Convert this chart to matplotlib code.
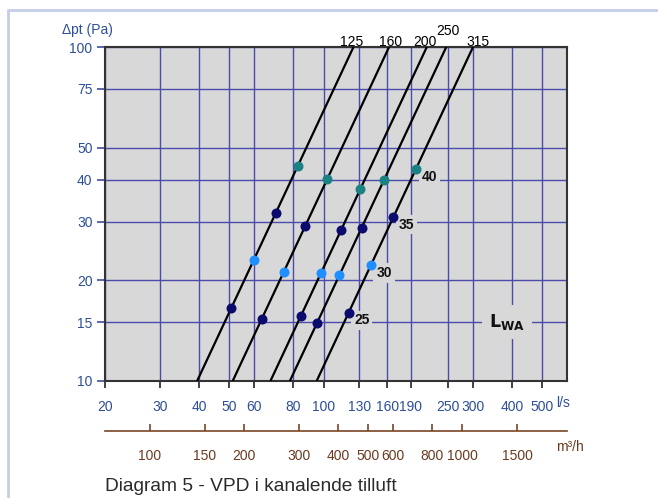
import numpy as np
import matplotlib
matplotlib.use("Agg")
import matplotlib.pyplot as plt
from matplotlib.lines import Line2D
from matplotlib.ticker import FixedLocator, FixedFormatter, NullLocator

plt.rcParams["font.family"] = ["Liberation Sans", "DejaVu Sans"]

# Duct sizes and the air flow (l/s) each one passes at 10 Pa
duct_sizes = ["125", "160", "200", "250", "315"]
flow_at_10pa = [39.4, 51.2, 67.6, 78.0, 95.0]

# Pressure drop (Pa) at which each duct reaches the given sound power level
sound_levels = ["25", "30", "35", "40"]
dp_lwa25 = [16.5, 15.3, 15.7, 14.9, 16.0]
dp_lwa30 = [23.0, 21.2, 21.0, 20.7, 22.2]
dp_lwa35 = [31.8, 29.2, 28.3, 28.8, 31.0]
dp_lwa40 = [44.1, 40.3, 37.6, 40.1, 43.1]

xticks_ls = [20, 30, 40, 50, 60, 80, 100, 130, 160, 190, 250, 300, 400, 500]
yticks_pa = [10, 15, 20, 30, 40, 50, 75, 100]
xticks_m3h = [100, 150, 200, 300, 400, 500, 600, 800, 1000, 1500]

BLUE_TXT = "#2d4f98"
GRID = "#4b4bab"
BROWN = "#7a4526"
BG = "#d8d8d8"
level_colors = ["#0b0b6e", "#1f8fff", "#0b0b6e", "#1a8282"]

W, H = 658, 498
fig = plt.figure(figsize=(W / 100, H / 100), dpi=100)
fig.patch.set_facecolor("white")

ax = fig.add_axes([105 / W, 1 - 381 / H, 462 / W, 334 / H])
ax.set_xscale("log")
ax.set_yscale("log")
ax.set_xlim(20, 600)
ax.set_ylim(10, 100)
ax.set_facecolor(BG)

ax.xaxis.set_major_locator(FixedLocator(xticks_ls))
ax.xaxis.set_major_formatter(FixedFormatter([str(v) for v in xticks_ls]))
ax.yaxis.set_major_locator(FixedLocator(yticks_pa))
ax.yaxis.set_major_formatter(FixedFormatter([str(v) for v in yticks_pa]))
ax.xaxis.set_minor_locator(NullLocator())
ax.yaxis.set_minor_locator(NullLocator())

ax.grid(True, which="major", color=GRID, lw=1.0)
ax.set_axisbelow(True)
for sp in ax.spines.values():
    sp.set_color("#333333")
    sp.set_linewidth(1.5)

ax.tick_params(axis="y", direction="out", length=6, width=1.2, color="#3b4fa0",
               labelcolor=BLUE_TXT, labelsize=10, pad=3)
ax.tick_params(axis="x", direction="out", length=5, width=1.2, color="#222222",
               labelcolor=BLUE_TXT, labelsize=10, pad=9)

# Duct characteristic lines: dp grows with the square of the flow
dp_line = np.array([10.0, 100.0])
label_dx = {"125": -2, "160": 1, "200": -2, "250": 2, "315": 5}
label_dy = {"125": 1, "160": 1, "200": 1, "250": 12, "315": 1}
for name, q10 in zip(duct_sizes, flow_at_10pa):
    q = q10 * np.sqrt(dp_line / 10.0)
    ax.plot(q, dp_line, color="black", lw=1.6, zorder=3, solid_capstyle="butt")
    ax.annotate(name, xy=(q[-1], 100), xycoords="data",
                xytext=(label_dx[name] * 0.72, label_dy[name] * 0.72),
                textcoords="offset points", ha="center", va="baseline",
                fontsize=10, color="black", annotation_clip=False)

# Sound level points on each duct line
for lvl, dps, col in zip(sound_levels, [dp_lwa25, dp_lwa30, dp_lwa35, dp_lwa40],
                         level_colors):
    dps = np.array(dps)
    q = np.array(flow_at_10pa) * np.sqrt(dps / 10.0)
    ax.scatter(q, dps, s=52, color=col, zorder=5, linewidths=0)
    ax.annotate(lvl, xy=(q[-1], dps[-1]), xytext=(9.5, -5.5), textcoords="offset points",
                ha="center", va="center", fontsize=10, fontweight="bold",
                color="#111111", zorder=4,
                bbox=dict(boxstyle="square,pad=0.2", fc=BG, ec="none"))

ax.text((507 - 105) / 462, (381 - 322) / 334, r"$\mathbf{L}_{\mathbf{WA}}$",
        transform=ax.transAxes, ha="center", va="center", fontsize=12.5,
        color="#111111", zorder=6,
        bbox=dict(boxstyle="square,pad=0.4", fc=BG, ec="none"))

# Secondary flow scale in m³/h
ax2 = fig.add_axes([105 / W, 1 - 431 / H, 462 / W, 0.0001])
ax2.set_xscale("log")
ax2.set_xlim(20 * 3.6, 600 * 3.6)
ax2.patch.set_visible(False)
for side in ["top", "left", "right"]:
    ax2.spines[side].set_visible(False)
ax2.spines["bottom"].set_color(BROWN)
ax2.spines["bottom"].set_linewidth(1.2)
ax2.set_yticks([])
ax2.xaxis.set_major_locator(FixedLocator(xticks_m3h))
ax2.xaxis.set_major_formatter(FixedFormatter([str(v) for v in xticks_m3h]))
ax2.xaxis.set_minor_locator(NullLocator())
ax2.tick_params(axis="x", direction="in", length=5, width=1.2, color=BROWN,
                labelcolor="#6b3a1f", labelsize=10, pad=13)

fig.text(62 / W, 1 - 30 / H, "Δpt (Pa)", color=BLUE_TXT, fontsize=10, va="center", ha="left")
fig.text(556 / W, 1 - 403 / H, "l/s", color=BLUE_TXT, fontsize=10, va="center", ha="left")
fig.text(556 / W, 1 - 447 / H, "m³/h", color="#6b3a1f", fontsize=10, va="center", ha="left")
fig.text(105 / W, 1 - 486 / H, "Diagram 5 - VPD i kanalende tilluft", color="#2a2a2a",
         fontsize=13.8, va="center", ha="left")

# Page frame
fig.add_artist(Line2D([8 / W, 8 / W, 1.0], [0.0, 1 - 10 / H, 1 - 10 / H],
                      transform=fig.transFigure, color="#c6cdea", lw=2))

fig.savefig("out.png", dpi=100, facecolor="white")
